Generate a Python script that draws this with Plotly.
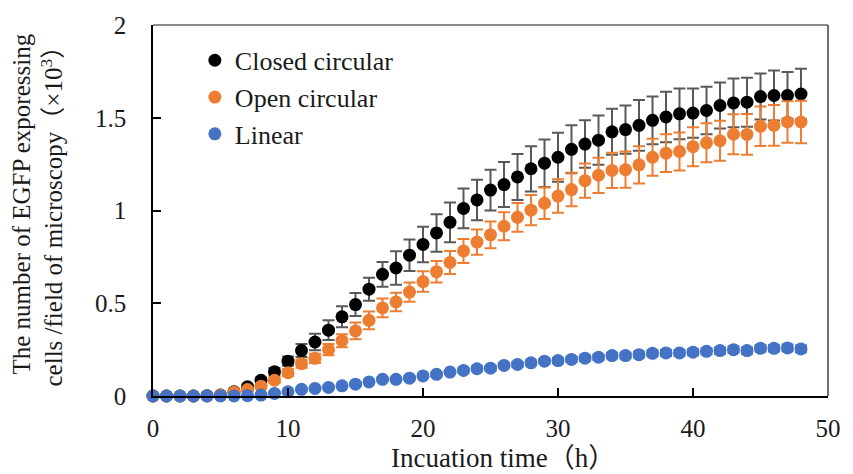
import plotly.graph_objects as go

# Incubation time (h)
hours = list(range(49))

# EGFP expressing cells per field (x10^3), mean and error
closed_mean = [0, 0, 0, 0, 0.002, 0.005, 0.023, 0.05, 0.085, 0.131,
               0.188, 0.245, 0.291, 0.355, 0.427, 0.493, 0.576, 0.656, 0.690, 0.759,
               0.817, 0.879, 0.936, 1.011, 1.057, 1.110, 1.140, 1.181, 1.225, 1.255,
               1.287, 1.330, 1.358, 1.379, 1.424, 1.436, 1.459, 1.486, 1.504, 1.521,
               1.525, 1.539, 1.566, 1.580, 1.584, 1.614, 1.620, 1.620, 1.628]
closed_err = [0, 0, 0, 0, 0, 0, 0.005, 0.01, 0.015, 0.02,
              0.025, 0.035, 0.044, 0.053, 0.057, 0.062, 0.062, 0.067, 0.09, 0.085,
              0.096, 0.101, 0.107, 0.107, 0.109, 0.11, 0.121, 0.124, 0.122, 0.128,
              0.132, 0.129, 0.128, 0.133, 0.124, 0.13, 0.137, 0.129, 0.136, 0.137,
              0.133, 0.128, 0.124, 0.131, 0.132, 0.124, 0.135, 0.126, 0.136]

open_mean = [0, 0, 0, 0, 0, 0.004, 0.02, 0.035, 0.053, 0.085,
             0.126, 0.174, 0.203, 0.25, 0.298, 0.351, 0.408, 0.475, 0.507, 0.56,
             0.617, 0.67, 0.72, 0.782, 0.83, 0.869, 0.915, 0.963, 1.002, 1.039,
             1.078, 1.113, 1.161, 1.19, 1.216, 1.22, 1.246, 1.287, 1.309, 1.318,
             1.344, 1.365, 1.376, 1.411, 1.41, 1.454, 1.459, 1.477, 1.477]
open_err = [0, 0, 0, 0, 0, 0, 0.004, 0.008, 0.012, 0.015,
            0.018, 0.022, 0.025, 0.03, 0.035, 0.045, 0.048, 0.05, 0.05, 0.052,
            0.055, 0.058, 0.062, 0.065, 0.068, 0.072, 0.075, 0.078, 0.082, 0.085,
            0.09, 0.09, 0.092, 0.095, 0.095, 0.098, 0.1, 0.1, 0.102, 0.102,
            0.105, 0.105, 0.108, 0.108, 0.11, 0.106, 0.11, 0.112, 0.115]

linear_mean = [0, 0, 0, 0, 0, 0, 0, 0.002, 0.005, 0.014,
               0.023, 0.036, 0.041, 0.046, 0.055, 0.064, 0.076, 0.09, 0.09, 0.096,
               0.108, 0.117, 0.129, 0.138, 0.147, 0.15, 0.165, 0.17, 0.179, 0.188,
               0.191, 0.197, 0.204, 0.209, 0.218, 0.218, 0.223, 0.23, 0.232, 0.232,
               0.236, 0.241, 0.245, 0.25, 0.245, 0.257, 0.257, 0.259, 0.254]
linear_err = [0, 0, 0, 0, 0, 0, 0, 0.001, 0.002, 0.003,
              0.004, 0.005, 0.005, 0.006, 0.006, 0.007, 0.008, 0.009, 0.009, 0.009,
              0.01, 0.01, 0.011, 0.011, 0.012, 0.012, 0.012, 0.013, 0.013, 0.013,
              0.014, 0.014, 0.014, 0.015, 0.015, 0.015, 0.015, 0.016, 0.016, 0.016,
              0.016, 0.016, 0.017, 0.017, 0.017, 0.017, 0.017, 0.018, 0.018]

x_ticks = [0, 10, 20, 30, 40, 50]
y_ticks = [0, 0.5, 1, 1.5, 2]
y_tick_text = ["0", "0.5", "1", "1.5", "2"]

FONT = "Liberation Serif, Times New Roman, Noto Sans CJK JP, serif"

series = [
    ("Closed circular", closed_mean, closed_err, "#000000", "#595959"),
    ("Open circular", open_mean, open_err, "#ED7D31", "#ED7D31"),
    ("Linear", linear_mean, linear_err, "#4472C4", "#4472C4"),
]

fig = go.Figure()
for name, mean, err, color, ecolor in series:
    fig.add_trace(go.Scatter(
        x=hours, y=mean, name=name, mode="markers",
        marker=dict(size=13, color=color),
        error_y=dict(type="data", array=err, visible=True,
                     color=ecolor, thickness=2, width=6),
        cliponaxis=False,
    ))

fig.update_layout(
    width=853, height=474,
    margin=dict(l=153, r=20, t=20, b=78),
    paper_bgcolor="white", plot_bgcolor="white",
    font=dict(family=FONT, size=25, color="#1a1a1a"),
    showlegend=True,
    legend=dict(x=0.062, y=0.968, xanchor="left", yanchor="top",
                bgcolor="rgba(0,0,0,0)", font=dict(size=26, family=FONT)),
    xaxis=dict(range=[0, 50], tickvals=x_ticks, ticks="inside", ticklen=8,
               tickwidth=1.5, tickcolor="black", showline=True, linecolor="black",
               linewidth=1.5, showgrid=False, zeroline=False,
               ticklabelstandoff=9),
    yaxis=dict(range=[0, 2], tickvals=y_ticks, ticktext=y_tick_text,
               ticks="inside", ticklen=8, tickwidth=1.5, tickcolor="black",
               showline=True, linecolor="black", linewidth=1.5,
               showgrid=False, zeroline=False, ticklabelstandoff=20),
    shapes=[
        dict(type="line", xref="paper", yref="paper", x0=0, x1=1, y0=1, y1=1,
             line=dict(color="#8c8c8c", width=2)),
        dict(type="line", xref="paper", yref="paper", x0=1, x1=1, y0=0, y1=1,
             line=dict(color="#404040", width=1.5)),
    ],
    annotations=[
        dict(text="Incuation time（h）", xref="paper", yref="paper",
             x=(506 - 153) / 680, y=0, yshift=-62, xanchor="center",
             yanchor="middle", showarrow=False, font=dict(size=27, family=FONT)),
        dict(text="The number of EGFP exporessing<br>cells /field of microscopy（×10<sup>3</sup>）",
             xref="paper", yref="paper", x=0, xshift=-116, y=0.5,
             xanchor="center", yanchor="middle", textangle=-90, align="right",
             showarrow=False, font=dict(size=25, family=FONT)),
    ],
)

fig.write_html("out.html")
